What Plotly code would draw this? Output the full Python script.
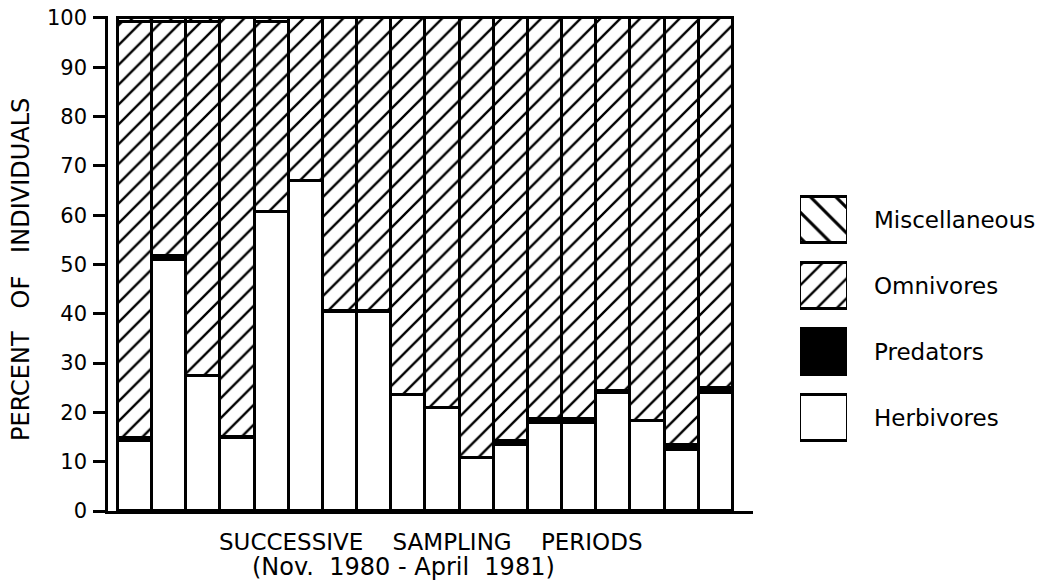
import plotly.graph_objects as go

# ---- data (percent of individuals per sampling period) ----
periods = list(range(1, 19))
herbivores = [14.1, 51.0, 27.4, 14.8, 60.6, 66.9, 40.3, 40.3, 23.6, 20.8, 10.7, 13.3, 17.9, 17.9, 24.0, 18.3, 12.4, 24.0]
predators = [0.8, 0.7, 0.0, 0.2, 0.0, 0.0, 0.3, 0.3, 0.0, 0.0, 0.0, 0.9, 0.8, 0.8, 0.3, 0.0, 1.0, 1.0]
omnivores = [84.3, 47.5, 71.8, 85.0, 38.6, 33.1, 59.4, 59.4, 76.4, 79.2, 89.3, 85.8, 81.3, 81.3, 75.7, 81.7, 86.6, 75.0]
miscellaneous = [0.8, 0.8, 0.8, 0.0, 0.8, 0.0, 0.0, 0.0, 0.0, 0.0, 0.0, 0.0, 0.0, 0.0, 0.0, 0.0, 0.0, 0.0]

legend_names = ["Herbivores", "Predators", "Omnivores", "Miscellaneous"]
y_ticks = list(range(0, 101, 10))

FONT = "DejaVu Sans"
LW = 2.6
HATCH_SOL = 0.17


def nz(vals):
    return [v if v > 0 else None for v in vals]


def hatch(shape, size):
    return dict(shape=shape, fgcolor="#000000", fgopacity=1, bgcolor="white",
                size=size, solidity=HATCH_SOL)


styles = {
    "Herbivores": dict(color="white"),
    "Predators": dict(color="black"),
    "Omnivores": dict(color="white", pattern=hatch("/", 14)),
    "Miscellaneous": dict(color="white", pattern=hatch("\\", 14)),
}
legend_styles = {
    "Herbivores": dict(color="white"),
    "Predators": dict(color="black"),
    "Omnivores": dict(color="white", pattern=hatch("/", 14)),
    "Miscellaneous": dict(color="white", pattern=hatch("\\", 18)),
}
series = {
    "Herbivores": herbivores,
    "Predators": predators,
    "Omnivores": omnivores,
    "Miscellaneous": miscellaneous,
}

fig = go.Figure()
for name in legend_names:
    fig.add_trace(go.Bar(
        x=periods, y=nz(series[name]), name=name, width=1.0,
        marker=dict(**styles[name], line=dict(color="black", width=LW)),
        showlegend=False, hoverinfo="skip",
    ))

# custom legend drawn as bars on a hidden pair of axes
for name in legend_names:
    fig.add_trace(go.Bar(
        y=[name], x=[1], orientation="h", width=0.69, xaxis="x2", yaxis="y2",
        marker=dict(**legend_styles[name], line=dict(color="black", width=2.4)),
        showlegend=False, hoverinfo="skip",
    ))

W, H = 1052, 587
ml, mr, mt, mb = 108, 0, 16, 76
pw = W - ml - mr
ph = H - mt - mb


def px_x(px):
    return (px - ml) / pw


def px_y(py):
    return (H - mb - py) / ph


fig.update_layout(
    width=W, height=H,
    margin=dict(l=ml, r=mr, t=mt, b=mb),
    paper_bgcolor="white", plot_bgcolor="white",
    barmode="stack", bargap=0,
    font=dict(family=FONT, color="black"),
    xaxis=dict(domain=[0, px_x(753)], range=[0.21, 19.09], showticklabels=False, ticks="",
               showgrid=False, zeroline=False, showline=True, linecolor="black", linewidth=LW,
               fixedrange=True),
    yaxis=dict(range=[0, 100.4], tickvals=y_ticks, ticks="outside", ticklen=12, tickwidth=LW,
               tickcolor="black", showline=True, linecolor="black", linewidth=LW,
               showgrid=False, zeroline=False, tickfont=dict(size=21, family=FONT, color="black"),
               ticklabelstandoff=2),
    xaxis2=dict(domain=[px_x(800), px_x(847)], range=[0, 1], visible=False, anchor="y2"),
    yaxis2=dict(domain=[px_y(450.5), px_y(186.5)], anchor="x2", side="right",
                categoryorder="array", categoryarray=legend_names, range=[-0.5, 3.5],
                showline=False, showgrid=False, zeroline=False, ticks="",
                tickfont=dict(size=23, family=FONT, color="black"), ticklabelstandoff=26),
)

nb = "\u00a0"
fig.add_annotation(text=f"PERCENT{nb*3}OF{nb*3}INDIVIDUALS", xref="paper", yref="paper",
                   x=px_x(21), y=px_y(270), textangle=-90, showarrow=False,
                   font=dict(size=24, family=FONT, color="black"), xanchor="center", yanchor="middle")
fig.add_annotation(text=f"SUCCESSIVE{nb*4}SAMPLING{nb*4}PERIODS", xref="paper", yref="paper",
                   x=px_x(431), y=px_y(542), showarrow=False,
                   font=dict(size=23, family=FONT, color="black"), xanchor="center", yanchor="middle")
fig.add_annotation(text=f"(Nov.{nb*2}1980{nb}-{nb}April{nb*2}1981)", xref="paper", yref="paper",
                   x=px_x(403), y=px_y(567), showarrow=False,
                   font=dict(size=24, family=FONT, color="black"), xanchor="center", yanchor="middle")

fig.write_html("out.html")
